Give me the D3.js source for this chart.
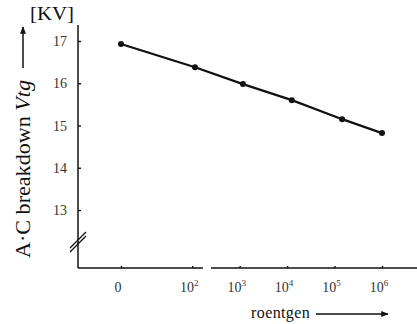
<!DOCTYPE html>
<html>
<head>
<meta charset="utf-8">
<script src="https://cdn.jsdelivr.net/npm/d3@7"></script>
<style>
  body { margin: 0; background: #fff; }
  svg { display: block; }
</style>
</head>
<body>
<svg id="chart"></svg>
<script>
// dose categories, as log10 exponents ("0" sits left of 10^2 on the same axis)
const tickExps = [0.5, 2, 3, 4, 5, 6];
const tickLabels = [["0", ""], ["10", "2"], ["10", "3"], ["10", "4"], ["10", "5"], ["10", "6"]];

// measured points: exposure (log10 position) and breakdown voltage [KV]
const doseExp = [0.5, 2.06, 3.07, 4.1, 5.16, 6];
const voltage = [16.93, 16.38, 15.98, 15.6, 15.15, 14.82];

const yTicks = [13, 14, 15, 16, 17];

const width = 417, height = 324;
const svg = d3.select("#chart")
  .attr("width", width).attr("height", height)
  .attr("font-family", "'Liberation Serif', 'DejaVu Serif', serif");

// scales
const x = d3.scaleLinear().domain([0.5, 6]).range([121, 382]);
const y = d3.scaleLinear().domain([13, 17]).range([210, 41]);

const axisX = 78, axisY = 268, axisTop = 25;
const ink = "#111";

// Y axis line
svg.append("line")
  .attr("x1", axisX).attr("x2", axisX)
  .attr("y1", axisTop).attr("y2", axisY)
  .attr("stroke", ink).attr("stroke-width", 1.5);

// y ticks + labels
const yAxis = svg.append("g").attr("transform", "translate(" + axisX + ",0)")
  .call(d3.axisRight(y).tickValues(yTicks).tickSize(3).tickFormat(""));
yAxis.select(".domain").remove();
yAxis.selectAll("line").attr("stroke", ink).attr("stroke-width", 1.4);

svg.append("g").selectAll("text").data(yTicks).enter().append("text")
  .attr("x", 67).attr("y", d => y(d) + 5)
  .attr("text-anchor", "end")
  .attr("font-size", 14).attr("fill", "#333")
  .text(d => d);

// axis break marks
[0, 4].forEach(off => {
  svg.append("line")
    .attr("x1", 70).attr("y1", 248 + off)
    .attr("x2", 86).attr("y2", 232 + off)
    .attr("stroke", ink).attr("stroke-width", 1.3);
});

// X axis line (drawn with a small scan gap)
[[axisX, 203], [211, width]].forEach(seg => {
  svg.append("line")
    .attr("x1", seg[0]).attr("x2", seg[1])
    .attr("y1", axisY).attr("y2", axisY)
    .attr("stroke", ink).attr("stroke-width", 1.5);
});

// x ticks
const xAxis = svg.append("g").attr("transform", "translate(0," + axisY + ")")
  .call(d3.axisTop(x).tickValues(tickExps).tickSize(2).tickFormat(""));
xAxis.select(".domain").remove();
xAxis.selectAll("line").attr("stroke", ink).attr("stroke-width", 1.4);

// x tick labels with superscripts
const xl = svg.append("g").selectAll("text").data(tickExps).enter().append("text")
  .attr("x", d => x(d) - 3).attr("y", 292)
  .attr("text-anchor", "middle")
  .attr("font-size", 14).attr("fill", "#333");
xl.append("tspan").text((d, i) => tickLabels[i][0]);
xl.append("tspan").attr("dy", -6).attr("font-size", 9).text((d, i) => tickLabels[i][1]);

// data line
const pts = doseExp.map((d, i) => [d, voltage[i]]);
svg.append("path")
  .datum(pts)
  .attr("fill", "none")
  .attr("stroke", ink)
  .attr("stroke-width", 2.2)
  .attr("d", d3.line().x(d => x(d[0])).y(d => y(d[1])));

svg.append("g").selectAll("circle").data(pts).enter().append("circle")
  .attr("cx", d => x(d[0])).attr("cy", d => y(d[1]))
  .attr("r", 3).attr("fill", ink);

// unit label
svg.append("text")
  .attr("x", 30).attr("y", 20)
  .attr("font-size", 18).attr("fill", ink)
  .attr("textLength", 44).attr("lengthAdjust", "spacingAndGlyphs")
  .text("[KV]");

// y title (rotated) with arrow
const yt = svg.append("text")
  .attr("transform", "translate(30,258) rotate(-90)")
  .attr("font-size", 20).attr("fill", ink)
  .attr("textLength", 178).attr("lengthAdjust", "spacingAndGlyphs");
yt.append("tspan").text("A·C breakdown ");
yt.append("tspan").attr("font-style", "italic").text("Vtg");

svg.append("defs").append("marker")
  .attr("id", "arr").attr("viewBox", "0 0 10 10")
  .attr("refX", 9).attr("refY", 5)
  .attr("markerWidth", 6).attr("markerHeight", 5)
  .attr("orient", "auto")
  .append("path").attr("d", "M0,1 L10,5 L0,9 Z").attr("fill", ink);

svg.append("line")
  .attr("x1", 23).attr("x2", 23).attr("y1", 68).attr("y2", 27)
  .attr("stroke", ink).attr("stroke-width", 1.5)
  .attr("marker-end", "url(#arr)");

// x title with arrow
svg.append("text")
  .attr("x", 251).attr("y", 318)
  .attr("font-size", 16).attr("fill", ink)
  .attr("letter-spacing", 0.4)
  .text("roentgen");

svg.append("line")
  .attr("x1", 316).attr("x2", 388).attr("y1", 314).attr("y2", 314)
  .attr("stroke", ink).attr("stroke-width", 1.5)
  .attr("marker-end", "url(#arr)");
</script>
</body>
</html>
